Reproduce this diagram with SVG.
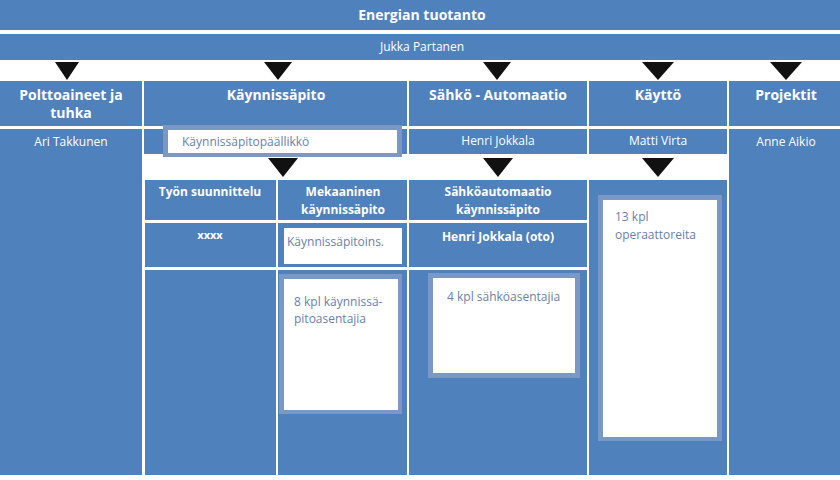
<svg xmlns="http://www.w3.org/2000/svg" width="840" height="480" viewBox="0 0 840 480">
<style>
.b{fill:#4f81bd}
.w{fill:#fff}
.f{fill:#7b97c4}
.t{font-family:"Open Sans","Liberation Sans",sans-serif;fill:#fff;font-weight:bold;text-anchor:middle}
.n{font-family:"Open Sans","Liberation Sans",sans-serif;fill:#fff;font-size:12px;text-anchor:middle}
.g{font-family:"Open Sans","Liberation Sans",sans-serif;fill:#6a7fa8;font-size:12px}
.tri{fill:#111}
</style>
<rect width="840" height="480" fill="#fff"/>
<g id="top"><rect class="b" x="0" y="0" width="840" height="30"/><text class="t" x="422" y="20" font-size="14">Energian tuotanto</text></g>
<g id="head"><rect class="b" x="0" y="34" width="840" height="26"/><text class="n" x="422" y="51" font-size="13">Jukka Partanen</text></g>
<g id="connectors">
<polygon class="tri" points="55,62 79,62 67,80"/>
<polygon class="tri" points="264,62 292,62 278,80"/>
<polygon class="tri" points="483,62 511,62 497,80"/>
<polygon class="tri" points="642,62 674,62 658,80"/>
<polygon class="tri" points="770,62 802,62 786,80"/>
<polygon class="tri" points="268,158 298,158 283,177"/>
<polygon class="tri" points="483,158 513,158 498,177"/>
<polygon class="tri" points="642,158 674,158 658,177"/>
</g>
<g id="polttoaineet"><rect class="b" x="0" y="81" width="142" height="45"/><text class="t" x="71" y="100" font-size="14">Polttoaineet ja</text><text class="t" x="71" y="118" font-size="14">tuhka</text>
<rect class="b" x="0" y="129" width="142" height="346"/><text class="n" x="71" y="146">Ari Takkunen</text></g>
<g id="kaynnissapito"><rect class="b" x="144" y="81" width="263" height="45"/><text class="t" x="276" y="100" font-size="14">Käynnissäpito</text>
<rect class="b" x="144" y="129" width="263" height="25"/>
<rect class="f" x="163" y="125" width="239" height="32"/><rect class="w" x="168" y="130" width="229" height="23"/>
<text class="g" x="182" y="146">Käynnissäpitopäällikkö</text></g>
<g id="tyon"><rect class="b" x="145" y="180" width="131" height="40"/><text class="t" x="210" y="196" font-size="12">Työn suunnittelu</text>
<rect class="b" x="145" y="223" width="131" height="44"/><text class="t" x="210" y="239" font-size="11">xxxx</text>
<rect class="b" x="145" y="270" width="131" height="205"/></g>
<g id="mekaaninen"><rect class="b" x="278" y="180" width="129" height="40"/><text class="t" x="343" y="196" font-size="12">Mekaaninen</text><text class="t" x="343" y="214" font-size="12">käynnissäpito</text>
<rect class="b" x="278" y="223" width="129" height="44"/><rect class="w" x="284" y="228" width="118" height="36"/><text class="g" x="287" y="246">Käynnissäpitoins.</text>
<rect class="b" x="278" y="270" width="129" height="205"/><rect class="f" x="279" y="274" width="123" height="140"/><rect class="w" x="284" y="279" width="114" height="131"/>
<text class="g" x="294" y="306">8 kpl käynnissä-</text><text class="g" x="294" y="323">pitoasentajia</text></g>
<g id="sahko"><rect class="b" x="409" y="81" width="178" height="45"/><text class="t" x="498" y="100" font-size="14">Sähkö - Automaatio</text>
<rect class="b" x="409" y="129" width="178" height="25"/><text class="n" x="498" y="145">Henri Jokkala</text>
<rect class="b" x="409" y="180" width="178" height="40"/><text class="t" x="498" y="196" font-size="12">Sähköautomaatio</text><text class="t" x="498" y="214" font-size="12">käynnissäpito</text>
<rect class="b" x="409" y="223" width="178" height="44"/><text class="t" x="498" y="241" font-size="12">Henri Jokkala (oto)</text>
<rect class="b" x="409" y="270" width="178" height="205"/><rect class="f" x="428" y="273" width="152" height="105"/><rect class="w" x="433" y="278" width="142" height="95"/>
<text class="g" x="447" y="301">4 kpl sähköasentajia</text></g>
<g id="kaytto"><rect class="b" x="589" y="81" width="138" height="45"/><text class="t" x="658" y="100" font-size="14">Käyttö</text>
<rect class="b" x="589" y="129" width="138" height="25"/><text class="n" x="658" y="145">Matti Virta</text>
<rect class="b" x="589" y="180" width="138" height="295"/><rect class="f" x="598" y="195" width="124" height="246"/><rect class="w" x="603" y="200" width="114" height="237"/>
<text class="g" x="615" y="221">13 kpl</text><text class="g" x="615" y="239">operaattoreita</text></g>
<g id="projektit"><rect class="b" x="729" y="81" width="111" height="45"/><text class="t" x="786" y="100" font-size="14">Projektit</text>
<rect class="b" x="729" y="129" width="111" height="346"/><text class="n" x="786" y="146">Anne Aikio</text></g>
</svg>
